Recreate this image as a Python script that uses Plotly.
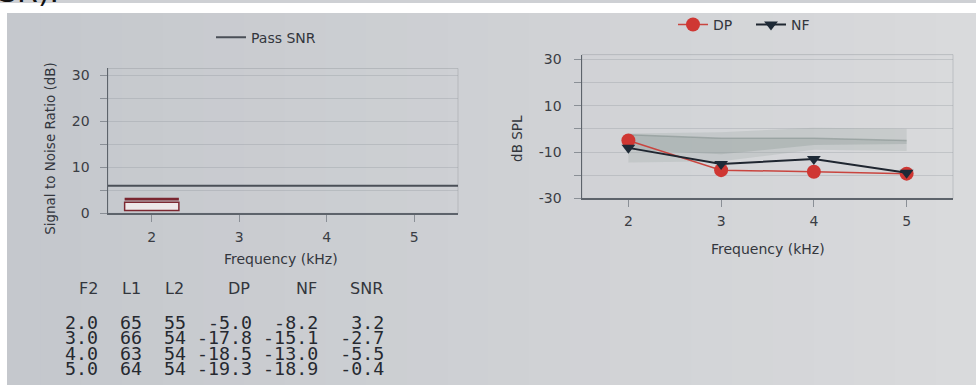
import plotly.graph_objects as go

W, H = 976, 385
HF = 393            # the page capture is 393 px tall and shown at 385

# ---- data ----
f2 = [2.0, 3.0, 4.0, 5.0]
l1 = [65, 66, 63, 64]
l2 = [55, 54, 54, 54]
dp = [-5.0, -17.8, -18.5, -19.3]
nf = [-8.2, -15.1, -13.0, -18.9]
snr = [3.2, -2.7, -5.5, -0.4]
pass_snr = 6.0
norm_outer_hi = [-2.0, -1.5, 0.5, 0.0]
norm_outer_lo = [-14.5, -14.0, -9.0, -9.5]
norm_inner_hi = [-2.5, -4.0, -4.0, -5.0]
norm_inner_lo = [-9.0, -11.0, -7.0, -6.5]

freq_ticks = [2, 3, 4, 5]
snr_ticks = [0, 5, 10, 15, 20, 25, 30]
snr_labels = ["0", "", "10", "", "20", "", "30"]
spl_ticks = [-30, -20, -10, 0, 10, 20, 30]
spl_labels = ["-30", "", "-10", "", "10", "", "30"]
table_cols = ["F2", "L1", "L2", "DP", "NF", "SNR"]


def px(x):
    return x / W


def py(y):
    return 1 - y / H


SANS = "DejaVu Sans"
MONO = "DejaVu Sans Mono"
TXT = "#33363d"
BG0 = (197, 200, 205)
BG1 = (217, 218, 220)

fig = go.Figure()

# ---- left chart: SNR ----
fig.add_trace(go.Scatter(
    x=[1.5, 5.5], y=[pass_snr, pass_snr], mode="lines",
    line=dict(color="#4a4f57", width=2), name="Pass SNR",
    xaxis="x", yaxis="y", legend="legend"))

pos = [(f, s) for f, s in zip(f2, snr) if s > 0]
fig.add_trace(go.Bar(
    x=[p[0] for p in pos], y=[p[1] - 1.4 for p in pos], base=[0.6] * len(pos),
    width=0.62, marker=dict(color="#eee8e9", line=dict(color="#7d2832", width=1.5)),
    showlegend=False, xaxis="x", yaxis="y"))
fig.add_trace(go.Bar(
    x=[p[0] for p in pos], y=[0.6] * len(pos), base=[p[1] - 0.4 for p in pos],
    width=0.62, marker=dict(color="#7a2630", line=dict(width=0)),
    showlegend=False, xaxis="x", yaxis="y"))

# ---- right chart: DP / NF ----
fig.add_trace(go.Scatter(x=f2, y=norm_outer_hi, mode="lines", line=dict(width=0),
                         showlegend=False, xaxis="x2", yaxis="y2", hoverinfo="skip"))
fig.add_trace(go.Scatter(x=f2, y=norm_outer_lo, mode="lines", line=dict(width=0),
                         fill="tonexty", fillcolor="rgba(150,162,160,0.25)",
                         showlegend=False, xaxis="x2", yaxis="y2", hoverinfo="skip"))
fig.add_trace(go.Scatter(x=f2, y=norm_inner_hi, mode="lines",
                         line=dict(width=1.5, color="rgba(120,132,130,0.45)"),
                         showlegend=False, xaxis="x2", yaxis="y2", hoverinfo="skip"))
fig.add_trace(go.Scatter(x=f2, y=norm_inner_lo, mode="lines", line=dict(width=0),
                         fill="tonexty", fillcolor="rgba(130,142,140,0.28)",
                         showlegend=False, xaxis="x2", yaxis="y2", hoverinfo="skip"))

fig.add_trace(go.Scatter(
    x=f2, y=dp, mode="lines+markers", name="DP",
    line=dict(color="#c9453f", width=1.5),
    marker=dict(symbol="circle", size=14, color="#cf3733"),
    xaxis="x2", yaxis="y2", legend="legend2"))
fig.add_trace(go.Scatter(
    x=f2, y=nf, mode="lines+markers", name="NF",
    line=dict(color="#1f2630", width=2),
    marker=dict(symbol="triangle-down", size=12, color="#1e2a37"),
    xaxis="x2", yaxis="y2", legend="legend2"))

# ---- background gradient & page edges ----
shapes = []
n = 24
for i in range(n):
    t = i / (n - 1)
    c = tuple(int(BG0[k] + (BG1[k] - BG0[k]) * t) for k in range(3))
    shapes.append(dict(type="rect", xref="paper", yref="paper", layer="below",
                       x0=i / n, x1=(i + 1) / n + 0.002, y0=0, y1=1,
                       fillcolor="rgb(%d,%d,%d)" % c, line=dict(width=0)))
shapes.append(dict(type="rect", xref="paper", yref="paper", layer="below",
                   x0=0, x1=1, y0=py(10), y1=1, fillcolor="white", line=dict(width=0)))
shapes.append(dict(type="rect", xref="paper", yref="paper", layer="below",
                   x0=0, x1=px(7), y0=0, y1=1, fillcolor="white", line=dict(width=0)))
# faint plot frames
for xr, yr in (("x", "y"), ("x2", "y2")):
    shapes.append(dict(type="rect", xref=xr + " domain", yref=yr + " domain",
                       x0=0, x1=1, y0=0, y1=1, layer="below",
                       line=dict(color="rgba(150,155,160,0.45)", width=1)))


def note(text, x, y, size, xanchor="center", yanchor="middle", angle=0,
         family=SANS, color=TXT):
    return dict(text=text, x=px(x), y=py(y), xref="paper", yref="paper",
                xanchor=xanchor, yanchor=yanchor, textangle=angle, showarrow=False,
                font=dict(family=family, size=size, color=color))


ann = [
    note("SR).", -4, 8, 30, xanchor="left", yanchor="bottom", color="#111"),
    note("Signal to Noise Ratio (dB)", 50, 147, 13.5, angle=-90),
    note("Frequency (kHz)", 281, 258, 14),
    note("dB SPL", 517, 137, 13.5, angle=-90),
    note("Frequency (kHz)", 768, 248, 14),
]

# table
col_right = [100, 143, 186, 252, 319, 385]
for name, xr in zip(table_cols, col_right):
    ann.append(note(name, xr, 288, 16, xanchor="right"))
row_y = [322, 337, 353, 368]
for i in range(len(f2)):
    s = "%4.1f%4d%4d%6.1f%6.1f%6.1f" % (f2[i], l1[i], l2[i], dp[i], nf[i], snr[i])
    s = s.replace(" ", "\u00a0")
    ann.append(note(s, 386, row_y[i], 18.3, xanchor="right", family=MONO,
                    color="#262930"))

axis_common = dict(showline=True, linecolor="#5d636b", linewidth=1.5, ticks="outside",
                   tickcolor="#8a8f96", ticklen=7, zeroline=False,
                   tickfont=dict(family=SANS, size=14, color="#3a3d44"))

fig.update_layout(
    width=W, height=HF, margin=dict(l=0, r=0, t=0, b=0), autosize=False,
    paper_bgcolor="rgb(206,208,212)", plot_bgcolor="rgba(0,0,0,0)",
    barmode="overlay", shapes=shapes, annotations=ann,
    xaxis=dict(domain=[px(108), px(458)], range=[1.5, 5.5], tickvals=freq_ticks,
               showgrid=False, anchor="y", ticklabelstandoff=3, **axis_common),
    yaxis=dict(domain=[py(212), py(66)], range=[0, 31.5], tickvals=snr_ticks,
               ticktext=snr_labels, showgrid=True, gridcolor="rgba(140,146,152,0.3)",
               anchor="x", ticklabelstandoff=7, **axis_common),
    xaxis2=dict(domain=[px(582), px(953)], range=[1.5, 5.5], tickvals=freq_ticks,
                showgrid=False, anchor="y2", ticklabelstandoff=2, **axis_common),
    yaxis2=dict(domain=[py(197), py(52)], range=[-30, 32], tickvals=spl_ticks,
                ticktext=spl_labels, showgrid=True, gridcolor="rgba(140,146,152,0.3)",
                anchor="x2", ticklabelstandoff=9, **axis_common),
    legend=dict(x=px(211), y=py(35), xanchor="left", yanchor="middle",
                bgcolor="rgba(0,0,0,0)", font=dict(family=SANS, size=14, color=TXT)),
    legend2=dict(x=px(673), y=py(22), xanchor="left", yanchor="middle",
                 orientation="h", entrywidth=33, bgcolor="rgba(0,0,0,0)",
                 font=dict(family=SANS, size=14, color=TXT)),
)

fig.write_html(
    "out.html",
    config={"displayModeBar": False, "staticPlot": True},
    post_script=(
        "document.documentElement.style.margin='0';"
        "document.body.style.margin='0';document.body.style.padding='0';"
    ),
)
